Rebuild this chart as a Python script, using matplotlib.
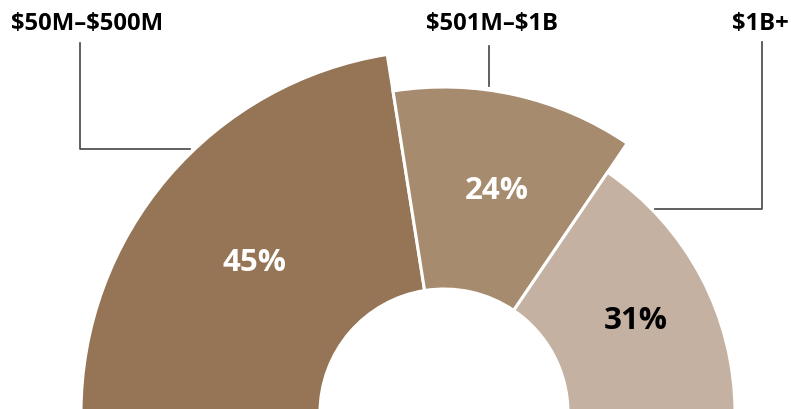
import numpy as np
import matplotlib
matplotlib.use("Agg")
import matplotlib.pyplot as plt
from matplotlib.patches import Wedge

# data
categories = ["$50M–$500M", "$501M–$1B", "$1B+"]
shares = [45, 24, 31]
colors = ["#957556", "#A68B6E", "#C4B1A1"]
text_colors = ["white", "white", "black"]
outer_r = [363, 326, 291]  # each slice has its own radius

# geometry (pixel units, y up)
W, H = 791, 410
cx, cy = 444, -4
inner_r = 124

plt.rcParams['font.family'] = ['Open Sans', 'DejaVu Sans']

fig = plt.figure(figsize=(W / 100, H / 100), dpi=100)
ax = fig.add_axes([0, 0, 1, 1])
ax.set_xlim(0, W)
ax.set_ylim(0, H)
ax.set_aspect('equal')
ax.axis('off')

start = 180.0
mids = []
for share, col, r in zip(shares, colors, outer_r):
    span = share / sum(shares) * 180.0
    theta1, theta2 = start - span, start
    ax.add_patch(Wedge((cx, cy), r, theta1, theta2, width=r - inner_r,
                       facecolor=col, edgecolor='white', linewidth=2.2))
    mids.append((theta1 + theta2) / 2)
    start = theta1

# percent labels in the middle of each ring (small nudges to match the original)
nudges = [(-4, -7), (4, 3), (8, -4)]
for share, mid, r, tc, (dx, dy) in zip(shares, mids, outer_r, text_colors, nudges):
    rr = (r + inner_r) / 2
    x = cx + rr * np.cos(np.radians(mid)) + dx
    y = cy + rr * np.sin(np.radians(mid)) + dy
    ax.text(x, y, f"{share}%", ha='center', va='center', color=tc,
            fontsize=22.5, fontweight='bold')

# category labels with leader lines
line_kw = dict(color='#444444', linewidth=1.2)
lab_kw = dict(va='center', fontsize=17.2, fontweight='bold', parse_math=False)
ax.text(11, H - 24, categories[0], ha='left', **lab_kw)
ax.plot([80, 80, 190], [H - 44, H - 150, H - 150], **line_kw)

ax.text(492, H - 24, categories[1], ha='center', **lab_kw)
ax.plot([489, 489], [H - 47, H - 87], **line_kw)

ax.text(789, H - 24, categories[2], ha='right', **lab_kw)
ax.plot([762, 762, 655], [H - 43, H - 210, H - 210], **line_kw)

fig.savefig("out.png", dpi=100, facecolor='white')
